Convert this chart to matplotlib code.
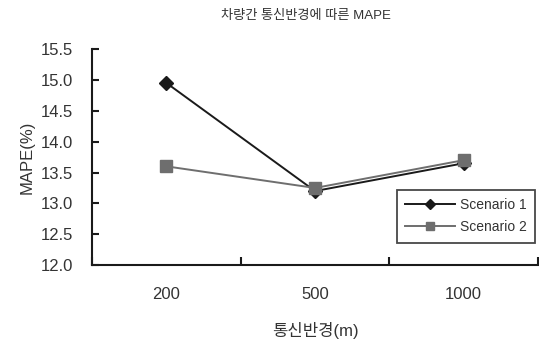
import matplotlib
matplotlib.use("Agg")
import matplotlib.pyplot as plt

plt.rcParams['font.family'] = ['Liberation Sans', 'Noto Sans CJK KR', 'DejaVu Sans']

# 통신반경 categories and MAPE values
radius = ["200", "500", "1000"]
scenario1 = [14.95, 13.2, 13.65]
scenario2 = [13.6, 13.25, 13.7]
yticks = [12.0, 12.5, 13.0, 13.5, 14.0, 14.5, 15.0, 15.5]

fig = plt.figure(figsize=(5.39, 3.43), dpi=100)
ax = fig.add_axes([0.171, 0.227, 0.827, 0.63])

x = list(range(len(radius)))
ax.plot(x, scenario1, color='#1a1a1a', linewidth=1.4, marker='D', markersize=7,
        label="Scenario 1")
ax.plot(x, scenario2, color='#6e6e6e', linewidth=1.4, marker='s', markersize=8,
        label="Scenario 2")

ax.set_xlim(-0.5, 2.5)
ax.set_ylim(12.0, 15.5)
ax.set_yticks(yticks)
ax.set_yticklabels(["%.1f" % v for v in yticks])
ax.set_xticks(x)
ax.set_xticklabels(radius)
ax.set_xticks([-0.5, 0.5, 1.5, 2.5], minor=True)

ax.spines['top'].set_visible(False)
ax.spines['right'].set_visible(False)
for s in ['left', 'bottom']:
    ax.spines[s].set_linewidth(1.5)
    ax.spines[s].set_color('#1a1a1a')

ax.tick_params(axis='y', direction='in', length=5, width=1.5, labelsize=12,
               pad=14, colors='#1a1a1a', labelcolor='#333333')
ax.tick_params(axis='x', which='major', length=0, labelsize=12, pad=16,
               labelcolor='#333333')
ax.tick_params(axis='x', which='minor', direction='in', length=6, width=1.5,
               color='#1a1a1a')

ax.set_ylabel("MAPE(%)", fontsize=12, color='#333333', labelpad=4)
ax.set_xlabel("통신반경(m)", fontsize=12, color='#333333', labelpad=14)
fig.text(0.568, 0.952, "차량간 통신반경에 따른 MAPE", fontsize=9.5, color='#333333',
         ha='center', va='center')

leg = ax.legend(loc='upper left', bbox_to_anchor=(0.684, 0.35), fontsize=10,
                frameon=True, fancybox=False, handlelength=3.6,
                borderpad=0.6, labelspacing=0.6, handletextpad=0.3,
                borderaxespad=0, markerscale=0.8)
leg.get_frame().set_edgecolor('#1a1a1a')
leg.get_frame().set_linewidth(1.3)
for t in leg.get_texts():
    t.set_color('#333333')

fig.savefig("out.png", dpi=100)
